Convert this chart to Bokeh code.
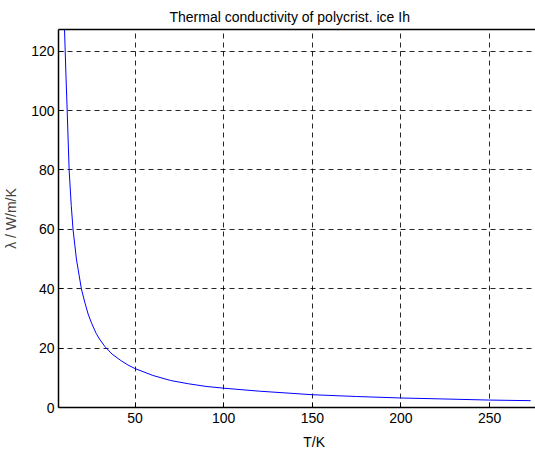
from bokeh.plotting import figure
from bokeh.models import Range1d, FixedTicker, LinearAxis, Title
from bokeh.embed import file_html
from bokeh.resources import INLINE

# Data (T in K, lambda in W/m/K)
T_K = [10.2, 11.0, 11.7, 12.8, 14.0, 15.0, 16.9, 19.7, 21.6, 23.5, 25.4, 28.0,
       30.0, 33.0, 37.0, 42.0, 46.0, 50.0, 60.0, 70.0, 80.0, 90.0, 100.0,
       120.0, 150.0, 175.0, 200.0, 222.0, 250.0, 273.15]
lam = [127.3, 112.0, 100.0, 80.0, 68.0, 60.0, 50.0, 40.0, 35.5, 31.5, 28.5, 25.0,
       23.0, 20.5, 18.0, 15.8, 14.3, 13.1, 10.8, 9.1, 8.0, 7.1, 6.5,
       5.5, 4.3, 3.7, 3.2, 2.9, 2.5, 2.3]

x_ticks = [50, 100, 150, 200, 250]
y_ticks = [0, 20, 40, 60, 80, 100, 120]
xlabel_at = 151  # x position (in K) where the reference centres its "T/K" label

FONT = "Liberation Sans"

p = figure(width=535, height=452, output_backend="svg", toolbar_location=None,
           x_range=Range1d(6.8, 275.9), y_range=Range1d(0, 127.3),
           min_border_left=57, min_border_right=0, min_border_top=29,
           min_border_bottom=45, background_fill_color="white",
           border_fill_color="white")
p.outline_line_color = None

p.line(T_K, lam, line_color="#0000ff", line_width=1)

for ax in (p.xaxis[0], p.yaxis[0]):
    ax.axis_line_color = "black"
    ax.axis_line_width = 1.5
    ax.major_tick_in = 5
    ax.major_tick_out = 0
    ax.minor_tick_line_color = None
    ax.major_tick_line_color = "black"
    ax.major_label_text_font = FONT
    ax.major_label_text_font_size = "14px"
    ax.major_label_text_color = "black"

p.xaxis.ticker = FixedTicker(ticks=x_ticks)
p.yaxis.ticker = FixedTicker(ticks=y_ticks)
p.xaxis.major_label_standoff = 5
p.yaxis.major_label_standoff = 4

p.yaxis.axis_label = "λ / W/m/K"
p.yaxis.axis_label_text_font = FONT
p.yaxis.axis_label_text_font_size = "14px"
p.yaxis.axis_label_text_font_style = "normal"
p.yaxis.axis_label_standoff = 9

# x-axis title drawn as the single label of a second, invisible bottom axis
xlab_axis = LinearAxis(ticker=FixedTicker(ticks=[xlabel_at]),
                       major_label_overrides={xlabel_at: "T/K"},
                       axis_line_color=None, major_tick_line_color=None,
                       minor_tick_line_color=None, major_tick_in=0,
                       major_tick_out=0, major_label_standoff=8,
                       major_label_text_font=FONT,
                       major_label_text_font_size="14px",
                       major_label_text_color="black")
p.add_layout(xlab_axis, "below")

top = LinearAxis(ticker=FixedTicker(ticks=[]), axis_line_color="black",
                 axis_line_width=1.5, major_tick_line_color=None,
                 minor_tick_line_color=None, major_tick_in=0, major_tick_out=0,
                 major_label_standoff=0, major_label_text_font_size="0px")
p.add_layout(top, "above")

for g in (p.xgrid[0], p.ygrid[0]):
    g.grid_line_color = "black"
    g.grid_line_alpha = 0.85
    g.grid_line_dash = "5 4"
    g.grid_line_width = 1
p.xgrid.ticker = FixedTicker(ticks=x_ticks)
p.ygrid.ticker = FixedTicker(ticks=y_ticks)

title = Title(text="Thermal conductivity of polycrist. ice Ih", align="left",
              offset=111, text_font=FONT, text_font_size="14px",
              text_font_style="normal", text_color="black", standoff=9)
p.add_layout(title, "above")

open("out.html", "w").write(file_html(p, INLINE))
